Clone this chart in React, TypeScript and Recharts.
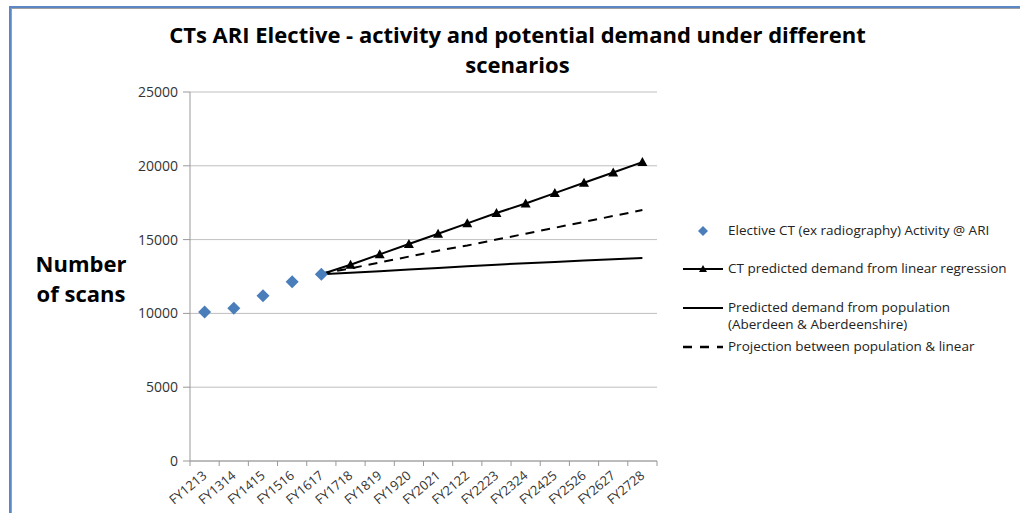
import React from "react";
import {
  ComposedChart,
  Line,
  XAxis,
  YAxis,
  CartesianGrid,
} from "recharts";

const categories = [
  "FY1213", "FY1314", "FY1415", "FY1516", "FY1617", "FY1718", "FY1819", "FY1920",
  "FY2021", "FY2122", "FY2223", "FY2324", "FY2425", "FY2526", "FY2627", "FY2728",
];

const activity = [10100, 10350, 11200, 12150, 12650, null, null, null, null, null, null, null, null, null, null, null];
const linear = [null, null, null, null, 12650, 13300, 14000, 14700, 15400, 16100, 16800, 17450, 18150, 18850, 19550, 20250];
const population = [null, null, null, null, 12650, 12750, 12850, 12980, 13080, 13200, 13300, 13400, 13490, 13580, 13670, 13750];
const projection = [null, null, null, null, 12700, 13050, 13450, 13850, 14250, 14600, 15000, 15400, 15800, 16200, 16600, 17000];

const yTicks = [0, 5000, 10000, 15000, 20000, 25000];

const legendItems = [
  { key: "activity", label: ["Elective CT (ex radiography) Activity @ ARI"] },
  { key: "linear", label: ["CT predicted demand from linear regression"] },
  { key: "population", label: ["Predicted demand from population", "(Aberdeen & Aberdeenshire)"] },
  { key: "projection", label: ["Projection between population & linear"] },
];

const data = categories.map((c, i) => ({
  name: c,
  activity: activity[i],
  linear: linear[i],
  population: population[i],
  projection: projection[i],
}));

const FONT = "'Open Sans', 'Liberation Sans', sans-serif";
const HALF_BAND = 14.6;

const Diamond = (props: any) => {
  const { cx, cy, value } = props;
  if (value == null || cx == null) return <g key={props.key} />;
  const r = 6.5;
  return (
    <path
      key={props.key}
      d={`M${cx},${cy - r} L${cx + r},${cy} L${cx},${cy + r} L${cx - r},${cy} Z`}
      fill="#4a7ebb"
    />
  );
};

const Triangle = (props: any) => {
  const { cx, cy, value, index } = props;
  if (value == null || cx == null || index === 4) return <g key={props.key} />;
  const r = 5;
  return (
    <path
      key={props.key}
      d={`M${cx},${cy - r} L${cx + r},${cy + r * 0.8} L${cx - r},${cy + r * 0.8} Z`}
      fill="#000"
    />
  );
};

const XTick = (props: any) => {
  const { x, y, payload, index } = props;
  const axisY = y - 8;
  return (
    <g>
      <line x1={x - HALF_BAND} y1={axisY} x2={x - HALF_BAND} y2={axisY + 5} stroke="#999" />
      {index === categories.length - 1 && (
        <line x1={x + HALF_BAND} y1={axisY} x2={x + HALF_BAND} y2={axisY + 5} stroke="#999" />
      )}
      <text
        x={x + 3}
        y={y + 8}
        textAnchor="end"
        transform={`rotate(-40, ${x + 3}, ${y + 8})`}
        fontSize={13}
        fontFamily={FONT}
        fill="#333"
      >
        {payload.value}
      </text>
    </g>
  );
};

const LegendBox = () => {
  const tops = [0, 38, 77, 116];
  return (
    <div style={{ position: "absolute", left: 681, top: 222, fontFamily: FONT, fontSize: 13.5, color: "#222" }}>
      {legendItems.map((it, i) => (
        <div
          key={it.key}
          style={{ position: "absolute", top: tops[i], left: 0, display: "flex", alignItems: "flex-start" }}
        >
          <svg width={44} height={18} style={{ flexShrink: 0 }}>
            {it.key === "activity" && <path d="M22,4 L27,9 L22,14 L17,9 Z" fill="#4a7ebb" />}
            {it.key === "linear" && (
              <g>
                <line x1={2} y1={9} x2={42} y2={9} stroke="#000" strokeWidth={2} />
                <path d="M22,5 L26,12 L18,12 Z" fill="#000" />
              </g>
            )}
            {it.key === "population" && <line x1={2} y1={9} x2={42} y2={9} stroke="#000" strokeWidth={2} />}
            {it.key === "projection" && (
              <line x1={2} y1={9} x2={42} y2={9} stroke="#000" strokeWidth={2.5} strokeDasharray="9 8" />
            )}
          </svg>
          <div style={{ marginLeft: 3, lineHeight: "17px", whiteSpace: "nowrap" }}>
            {it.label.map((l) => (
              <div key={l}>{l}</div>
            ))}
          </div>
        </div>
      ))}
    </div>
  );
};

export default function App() {
  return (
    <div style={{ position: "absolute", left: 0, top: 0, width: 1020, height: 513, background: "#fff", overflow: "hidden" }}>
      <div
        style={{
          position: "absolute",
          left: 9,
          top: 6,
          width: 1011,
          height: 507,
          borderTop: "2px solid #5b87c5",
          borderLeft: "2px solid #5b87c5",
          boxShadow: "inset 1px 1px 0 #a0a0a0",
        }}
      />
      <div
        style={{
          position: "absolute",
          left: 0,
          width: 1035,
          top: 19,
          textAlign: "center",
          fontFamily: FONT,
          fontWeight: 700,
          fontSize: 22,
          lineHeight: "30px",
          color: "#000",
        }}
      >
        <div>CTs ARI Elective - activity and potential demand under different</div>
        <div>scenarios</div>
      </div>
      <div
        style={{
          position: "absolute",
          left: 26,
          top: 248,
          width: 110,
          textAlign: "center",
          fontFamily: FONT,
          fontWeight: 700,
          fontSize: 22,
          lineHeight: "30px",
          color: "#000",
        }}
      >
        <div>Number</div>
        <div>of scans</div>
      </div>
      <div style={{ position: "absolute", left: 0, top: 0 }}>
        <ComposedChart
          width={1020}
          height={513}
          data={data}
          margin={{ top: 92, right: 363, bottom: 2, left: 130 }}
        >
          <CartesianGrid vertical={false} stroke="#bfbfbf" />
          <XAxis
            dataKey="name"
            interval={0}
            height={50}
            padding={{ left: HALF_BAND, right: HALF_BAND }}
            tick={<XTick />}
            tickLine={false}
            tickSize={6}
            axisLine={{ stroke: "#999" }}
          />
          <YAxis
            width={60}
            domain={[0, 25000]}
            ticks={yTicks}
            interval={0}
            tick={{ fontSize: 14, fill: "#333", fontFamily: FONT }}
            tickLine={{ stroke: "#999" }}
            axisLine={{ stroke: "#999" }}
            tickSize={7}
            tickMargin={5}
          />
          <Line
            dataKey="population"
            stroke="#000"
            strokeWidth={2}
            dot={false}
            isAnimationActive={false}
          />
          <Line
            dataKey="projection"
            stroke="#000"
            strokeWidth={2}
            strokeDasharray="9 7"
            dot={false}
            isAnimationActive={false}
          />
          <Line
            dataKey="linear"
            stroke="#000"
            strokeWidth={2}
            dot={<Triangle />}
            isAnimationActive={false}
          />
          <Line
            dataKey="activity"
            stroke="none"
            dot={<Diamond />}
            activeDot={false}
            isAnimationActive={false}
          />
        </ComposedChart>
      </div>
      <LegendBox />
    </div>
  );
}
